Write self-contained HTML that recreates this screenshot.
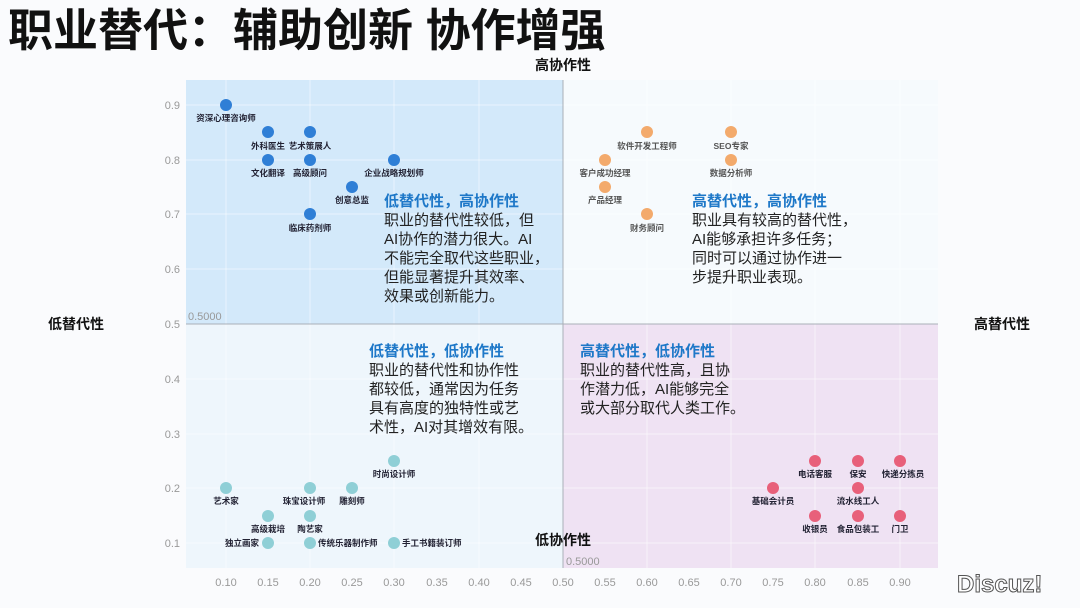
<!DOCTYPE html>
<html><head><meta charset="utf-8"><style>
body{margin:0;width:1080px;height:608px;overflow:hidden;background:#fafbfd;}
svg{display:block}
text{font-family:"Liberation Sans","Noto Sans CJK SC",sans-serif;}
.s{font-family:"Noto Serif CJK SC",serif;font-size:8.5px;fill:#223;font-weight:bold}
.t{font-size:11px;fill:#999}
.h{font-size:15px;font-weight:bold;fill:#1e78c8}
.b{font-size:15px;fill:#222}
.ax{font-size:14px;font-weight:bold;fill:#111}
</style></head><body>
<svg width="1080" height="608" viewBox="0 0 1080 608">
<rect x="186" y="80" width="752" height="488" fill="#f6fafd"/>
<rect x="186" y="80" width="377" height="244" fill="#d3e9fa"/>
<rect x="186" y="324" width="377" height="244" fill="#eef6fc"/>
<rect x="563" y="324" width="375" height="244" fill="#efe2f3"/>
<g stroke="#ffffff" stroke-opacity="0.5" stroke-width="1">
<line x1="226" y1="80" x2="226" y2="568"/><line x1="310" y1="80" x2="310" y2="568"/><line x1="394" y1="80" x2="394" y2="568"/><line x1="479" y1="80" x2="479" y2="568"/><line x1="647" y1="80" x2="647" y2="568"/><line x1="731" y1="80" x2="731" y2="568"/><line x1="815" y1="80" x2="815" y2="568"/><line x1="900" y1="80" x2="900" y2="568"/>
<line x1="186" y1="105" x2="938" y2="105"/><line x1="186" y1="160" x2="938" y2="160"/><line x1="186" y1="214" x2="938" y2="214"/><line x1="186" y1="269" x2="938" y2="269"/><line x1="186" y1="379" x2="938" y2="379"/><line x1="186" y1="434" x2="938" y2="434"/><line x1="186" y1="488" x2="938" y2="488"/><line x1="186" y1="543" x2="938" y2="543"/>
</g>
<line x1="563" y1="80" x2="563" y2="568" stroke="#aab0b8" stroke-width="1"/>
<line x1="186" y1="324" x2="938" y2="324" stroke="#aab0b8" stroke-width="1"/>
<text x="188" y="320" class="t" font-size="10">0.5000</text>
<text x="566" y="565" class="t" font-size="10">0.5000</text>
<g class="t" text-anchor="end">
<text x="180" y="109">0.9</text><text x="180" y="164">0.8</text><text x="180" y="218">0.7</text><text x="180" y="273">0.6</text><text x="180" y="328">0.5</text><text x="180" y="383">0.4</text><text x="180" y="438">0.3</text><text x="180" y="492">0.2</text><text x="180" y="547">0.1</text>
</g>
<g class="t" text-anchor="middle">
<text x="226" y="586">0.10</text><text x="268" y="586">0.15</text><text x="310" y="586">0.20</text><text x="352" y="586">0.25</text><text x="394" y="586">0.30</text><text x="437" y="586">0.35</text><text x="479" y="586">0.40</text><text x="521" y="586">0.45</text><text x="563" y="586">0.50</text><text x="605" y="586">0.55</text><text x="647" y="586">0.60</text><text x="689" y="586">0.65</text><text x="731" y="586">0.70</text><text x="773" y="586">0.75</text><text x="815" y="586">0.80</text><text x="858" y="586">0.85</text><text x="900" y="586">0.90</text>
</g>
<text x="8" y="46" font-size="45" font-weight="bold" fill="#111">职业替代：辅助创新 协作增强</text>
<text x="563" y="70" class="ax" text-anchor="middle">高协作性</text>
<text x="563" y="545" class="ax" text-anchor="middle">低协作性</text>
<text x="76" y="329" class="ax" text-anchor="middle">低替代性</text>
<text x="1002" y="329" class="ax" text-anchor="middle">高替代性</text>
<g fill="#2f7fd6">
<circle cx="226" cy="105" r="6"/><circle cx="268" cy="132" r="6"/><circle cx="310" cy="132" r="6"/><circle cx="268" cy="160" r="6"/><circle cx="310" cy="160" r="6"/><circle cx="394" cy="160" r="6"/><circle cx="352" cy="187" r="6"/><circle cx="310" cy="214" r="6"/>
</g>
<g class="s" text-anchor="middle">
<text x="226" y="121">资深心理咨询师</text><text x="268" y="149">外科医生</text><text x="310" y="149">艺术策展人</text><text x="268" y="176">文化翻译</text><text x="310" y="176">高级顾问</text><text x="394" y="176">企业战略规划师</text><text x="352" y="203">创意总监</text><text x="310" y="231">临床药剂师</text>
</g>
<g fill="#f3aa6c">
<circle cx="647" cy="132" r="6"/><circle cx="731" cy="132" r="6"/><circle cx="605" cy="160" r="6"/><circle cx="731" cy="160" r="6"/><circle cx="605" cy="187" r="6"/><circle cx="647" cy="214" r="6"/>
</g>
<g class="s" text-anchor="middle" style="fill:#555">
<text x="647" y="149">软件开发工程师</text><text x="731" y="149">SEO专家</text><text x="605" y="176">客户成功经理</text><text x="731" y="176">数据分析师</text><text x="605" y="203">产品经理</text><text x="647" y="231">财务顾问</text>
</g>
<g fill="#8fcfd6">
<circle cx="394" cy="461" r="6"/><circle cx="226" cy="488" r="6"/><circle cx="310" cy="488" r="6"/><circle cx="352" cy="488" r="6"/><circle cx="268" cy="516" r="6"/><circle cx="310" cy="516" r="6"/><circle cx="268" cy="543" r="6"/><circle cx="310" cy="543" r="6"/><circle cx="394" cy="543" r="6"/>
</g>
<g class="s" text-anchor="middle">
<text x="394" y="477">时尚设计师</text><text x="226" y="504">艺术家</text><text x="304" y="504">珠宝设计师</text><text x="352" y="504">雕刻师</text><text x="268" y="532">高级栽培</text><text x="310" y="532">陶艺家</text>
</g>
<g class="s"><text x="259" y="546" text-anchor="end">独立画家</text><text x="318" y="546">传统乐器制作师</text><text x="402" y="546">手工书籍装订师</text></g>
<g fill="#e8607a">
<circle cx="815" cy="461" r="6"/><circle cx="858" cy="461" r="6"/><circle cx="900" cy="461" r="6"/><circle cx="773" cy="488" r="6"/><circle cx="858" cy="488" r="6"/><circle cx="815" cy="516" r="6"/><circle cx="858" cy="516" r="6"/><circle cx="900" cy="516" r="6"/>
</g>
<g class="s" text-anchor="middle">
<text x="815" y="477">电话客服</text><text x="858" y="477">保安</text><text x="903" y="477">快递分拣员</text><text x="773" y="504">基础会计员</text><text x="858" y="504">流水线工人</text><text x="815" y="532">收银员</text><text x="858" y="532">食品包装工</text><text x="900" y="532">门卫</text>
</g>
<text x="384" y="206" class="h">低替代性，高协作性</text>
<text class="b"><tspan x="384" y="225">职业的替代性较低，但</tspan><tspan x="384" y="244">AI协作的潜力很大。AI</tspan><tspan x="384" y="263">不能完全取代这些职业，</tspan><tspan x="384" y="282">但能显著提升其效率、</tspan><tspan x="384" y="301">效果或创新能力。</tspan></text>
<text x="692" y="206" class="h">高替代性，高协作性</text>
<text class="b"><tspan x="692" y="225">职业具有较高的替代性，</tspan><tspan x="692" y="244">AI能够承担许多任务；</tspan><tspan x="692" y="263">同时可以通过协作进一</tspan><tspan x="692" y="282">步提升职业表现。</tspan></text>
<text x="369" y="356" class="h">低替代性，低协作性</text>
<text class="b"><tspan x="369" y="375">职业的替代性和协作性</tspan><tspan x="369" y="394">都较低，通常因为任务</tspan><tspan x="369" y="413">具有高度的独特性或艺</tspan><tspan x="369" y="432">术性，AI对其增效有限。</tspan></text>
<text x="580" y="356" class="h">高替代性，低协作性</text>
<text class="b"><tspan x="580" y="375">职业的替代性高，且协</tspan><tspan x="580" y="394">作潜力低，AI能够完全</tspan><tspan x="580" y="413">或大部分取代人类工作。</tspan></text>
<text x="957" y="592" font-size="24" font-weight="bold" fill="#fff" stroke="#555" stroke-width="1">Discuz!</text>
</svg>
</body></html>
